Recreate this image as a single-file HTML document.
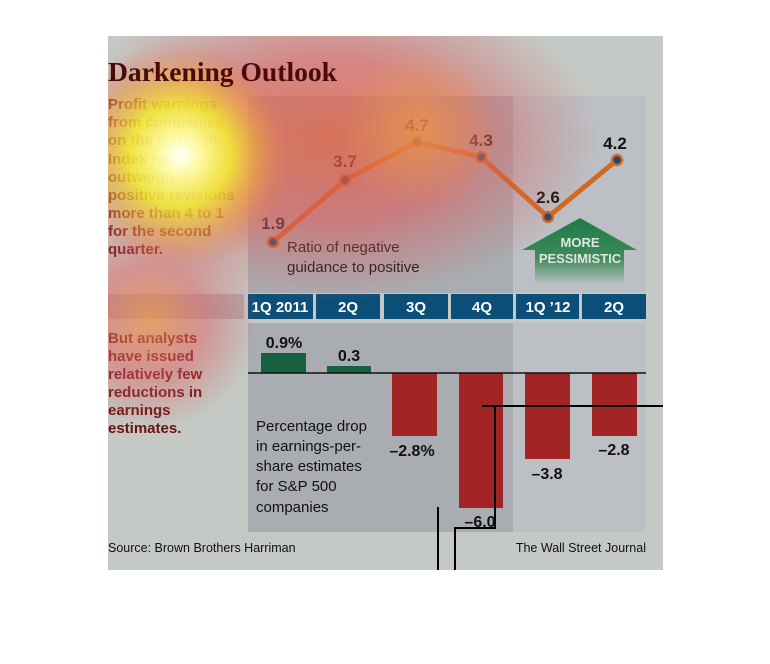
<!DOCTYPE html>
<html><head><style>
body{margin:0;background:#fff;width:770px;height:664px;overflow:hidden}
svg{display:block;font-family:"Liberation Sans",sans-serif}
</style></head><body>
<svg width="770" height="664" viewBox="0 0 770 664">
<defs>
<radialGradient id="yel" cx="180" cy="155" r="115" gradientUnits="userSpaceOnUse">
<stop offset="0" stop-color="#ffffff" stop-opacity="1"/>
<stop offset="0.18" stop-color="#ffffa0" stop-opacity="0.95"/>
<stop offset="0.45" stop-color="#f4ec30" stop-opacity="0.85"/>
<stop offset="0.75" stop-color="#f0a040" stop-opacity="0.45"/>
<stop offset="1" stop-color="#e07060" stop-opacity="0"/>
</radialGradient>
<radialGradient id="red1" cx="330" cy="140" r="270" gradientUnits="userSpaceOnUse" gradientTransform="translate(330 140) scale(1 0.6) translate(-330 -140)">
<stop offset="0" stop-color="#e8603a" stop-opacity="0.75"/>
<stop offset="0.5" stop-color="#e05a5a" stop-opacity="0.6"/>
<stop offset="1" stop-color="#d06060" stop-opacity="0"/>
</radialGradient>
<radialGradient id="red2" cx="150" cy="320" r="110" gradientUnits="userSpaceOnUse">
<stop offset="0" stop-color="#f09040" stop-opacity="0.7"/>
<stop offset="0.5" stop-color="#e06060" stop-opacity="0.5"/>
<stop offset="1" stop-color="#d06060" stop-opacity="0"/>
</radialGradient>
<radialGradient id="or" cx="420" cy="130" r="80" gradientUnits="userSpaceOnUse">
<stop offset="0" stop-color="#f0a040" stop-opacity="0.6"/>
<stop offset="1" stop-color="#f0a040" stop-opacity="0"/>
</radialGradient>
<linearGradient id="arr" x1="0" y1="218" x2="0" y2="285" gradientUnits="userSpaceOnUse">
<stop offset="0" stop-color="#1f7a48"/>
<stop offset="0.6" stop-color="#3f8a5a"/>
<stop offset="1" stop-color="#3f8a5a" stop-opacity="0"/>
</linearGradient>
</defs>
<rect x="108" y="36" width="555" height="534" fill="#c5c9c5"/>
<rect x="248" y="96" width="265" height="197" fill="#a9adb2"/>
<rect x="513" y="96" width="133" height="197" fill="#bcc0c4"/>
<rect x="248" y="323" width="265" height="209" fill="#a9adb2"/>
<rect x="513" y="323" width="133" height="209" fill="#bcc0c4"/>
<rect x="108" y="294" width="136" height="25" fill="#b0a8a8"/>
<g fill="#0b4f78">
<rect x="248" y="294" width="65" height="25"/><rect x="316" y="294" width="64" height="25"/>
<rect x="384" y="294" width="64" height="25"/><rect x="451" y="294" width="62" height="25"/>
<rect x="516" y="294" width="63" height="25"/><rect x="582" y="294" width="64" height="25"/>
</g>
<g fill="#fff" font-weight="bold" font-size="15" text-anchor="middle">
<text x="280" y="312">1Q 2011</text><text x="348" y="312">2Q</text><text x="416" y="312">3Q</text>
<text x="482" y="312">4Q</text><text x="548" y="312">1Q ’12</text><text x="614" y="312">2Q</text>
</g>
<path d="M580 218 L637 250 L624 250 L624 285 L535 285 L535 250 L522 250 Z" fill="url(#arr)"/>
<text x="580" y="247" fill="#dfe6df" font-size="13" font-weight="bold" text-anchor="middle">MORE</text>
<text x="580" y="263" fill="#dfe6df" font-size="13" font-weight="bold" text-anchor="middle">PESSIMISTIC</text>
<polyline points="273,242 345,180 417,142 481,157 548,217 617,160" fill="none" stroke="#d2691e" stroke-width="5" stroke-linejoin="round"/>
<g fill="#1d4a70" stroke="#d2691e" stroke-width="2.5">
<circle cx="273" cy="242" r="5"/><circle cx="345" cy="180" r="5"/><circle cx="417" cy="142" r="5"/>
<circle cx="481" cy="157" r="5"/><circle cx="548" cy="217" r="5"/><circle cx="617" cy="160" r="5"/>
</g>
<g fill="#111" font-weight="bold" font-size="17" text-anchor="middle">
<text x="273" y="229">1.9</text><text x="345" y="167">3.7</text><text x="417" y="131">4.7</text>
<text x="481" y="146">4.3</text><text x="548" y="203">2.6</text><text x="615" y="149">4.2</text>
</g>
<text x="287" y="252" font-size="15" fill="#111">Ratio of negative</text>
<text x="287" y="272" font-size="15" fill="#111">guidance to positive</text>
<rect x="261" y="353" width="45" height="20" fill="#17613f"/>
<rect x="327" y="366" width="44" height="7" fill="#17613f"/>
<g fill="#a22424">
<rect x="392" y="373" width="45" height="63"/><rect x="459" y="373" width="44" height="135"/>
<rect x="525" y="373" width="45" height="86"/><rect x="592" y="373" width="45" height="63"/>
</g>
<line x1="248" y1="373" x2="646" y2="373" stroke="#111" stroke-width="1.5"/>
<g fill="#111" font-weight="bold" font-size="16" text-anchor="middle">
<text x="284" y="348">0.9%</text><text x="349" y="361">0.3</text><text x="412" y="456">–2.8%</text>
<text x="480" y="527">–6.0</text><text x="547" y="479">–3.8</text><text x="614" y="455">–2.8</text>
</g>
<g font-size="15" fill="#111">
<text x="256" y="431">Percentage drop</text><text x="256" y="451">in earnings-per-</text>
<text x="256" y="471">share estimates</text><text x="256" y="491">for S&amp;P 500</text><text x="256" y="512">companies</text>
</g>
<g font-size="15" fill="#6a1010" font-weight="bold">
<text x="108" y="109">Profit warnings</text><text x="108" y="127">from companies</text><text x="108" y="145">on the S&amp;P 500</text>
<text x="108" y="164">Index has</text><text x="108" y="182">outweighed</text><text x="108" y="200">positive revisions</text>
<text x="108" y="218">more than 4 to 1</text><text x="108" y="236">for the second</text><text x="108" y="254">quarter.</text>
<text x="108" y="343">But analysts</text><text x="108" y="361">have issued</text><text x="108" y="379">relatively few</text>
<text x="108" y="397">reductions in</text><text x="108" y="415">earnings</text><text x="108" y="433">estimates.</text>
</g>
<text x="108" y="552" font-size="12.5" fill="#111">Source: Brown Brothers Harriman</text>
<text x="646" y="552" font-size="12.5" fill="#111" text-anchor="end">The Wall Street Journal</text>
<rect x="108" y="36" width="555" height="534" fill="url(#red1)"/>
<rect x="108" y="36" width="555" height="534" fill="url(#or)"/>
<rect x="108" y="36" width="555" height="534" fill="url(#red2)"/>
<rect x="108" y="36" width="555" height="534" fill="url(#yel)"/>
<text x="108" y="81" style="font-family:'Liberation Serif',serif;font-weight:bold;font-size:27px" fill="#4a0a0a" textLength="229" lengthAdjust="spacingAndGlyphs">Darkening Outlook</text>
<g stroke="#000" stroke-width="2" fill="none">
<polyline points="482,406 663,406"/><polyline points="495,406 495,528 455,528 455,570"/>
<line x1="438" y1="507" x2="438" y2="570"/>
</g>
</svg>
</body></html>
